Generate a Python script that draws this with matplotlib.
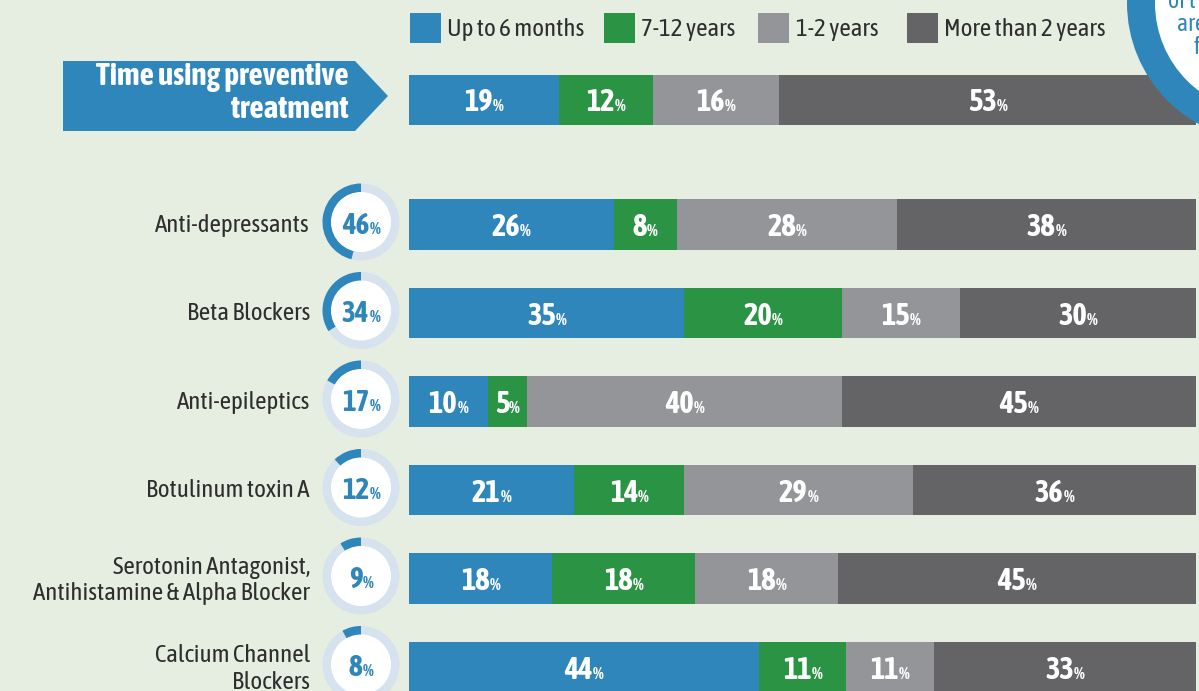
import matplotlib
matplotlib.use('Agg')
import matplotlib.pyplot as plt
from matplotlib.patches import Wedge, Circle, Rectangle, Polygon

# donnees
rows = ['Time using preventive\ntreatment', 'Anti-depressants', 'Beta Blockers',
        'Anti-epileptics', 'Botulinum toxin A',
        'Serotonin Antagonist,\nAntihistamine & Alpha Blocker',
        'Calcium Channel\nBlockers']
up_to_6m = [19, 26, 35, 10, 21, 18, 44]
y7_12 = [12, 8, 20, 5, 14, 18, 11]
y1_2 = [16, 28, 15, 40, 29, 18, 11]
more_2y = [53, 38, 30, 45, 36, 45, 33]
usage = [46, 34, 17, 12, 9, 8]  # part des patients, lignes medicaments
legend_labels = ['Up to 6 months', '7-12 years', '1-2 years', 'More than 2 years']
colors = ['#2e86bb', '#2a9444', '#939598', '#646466']

# police etroite (repli sur Liberation Sans)
plt.rcParams['font.family'] = ['Asap Condensed', 'Liberation Sans', 'DejaVu Sans']

W, H = 1199, 691
bg = '#e6ede1'
blue = colors[0]
txt = '#2e2e2e'

# positions des lignes (unites de ligne)
ypos = [-1.41, 0, 1, 2, 3, 4, 5]
ROW0, STEP = 224.5, 88.5
def ypx(u):
    return ROW0 + STEP * u

fig = plt.figure(figsize=(W / 100, H / 100), dpi=100, facecolor=bg)
rend = fig.canvas.get_renderer()

def pct_label(axis, x, y, num, color, size, dy):
    # nombre + petit %, le tout centre sur x
    kw = dict(textcoords='offset points', ha='left', va='baseline',
              color=color, fontweight='bold')
    t1 = axis.annotate(num, (x, y), xytext=(0, dy), fontsize=size, **kw)
    t2 = axis.annotate('%', (x, y), xytext=(0, dy), fontsize=12.5, **kw)
    w1 = t1.get_window_extent(rend).width
    w2 = t2.get_window_extent(rend).width
    gap = 0
    tot = w1 + gap + w2
    t1.xyann = (-tot / 2 * 0.72, dy)
    t2.xyann = ((-tot / 2 + w1 + gap) * 0.72, dy)

# barres empilees
ax = fig.add_axes([409 / W, 0, 1 - 409 / W, 1])
ax.set_facecolor('none')
ax.axis('off')
ax.set_xlim(0, (W - 409) / 7.87)
ax.set_ylim((H - ROW0) / STEP, -ROW0 / STEP)

series = [up_to_6m, y7_12, y1_2, more_2y]
for i in range(len(rows)):
    tot = sum(s[i] for s in series)
    left = 0
    for s, c in zip(series, colors):
        w = s[i] / tot * 100
        ax.barh(ypos[i], w, left=left, height=0.565, color=c, linewidth=0)
        pct_label(ax, left + w / 2, ypos[i], str(s[i]), 'white', 22, -8.3)
        left += w

# calque decoratif en pixels
ov = fig.add_axes([0, 0, 1, 1])
ov.set_xlim(0, W)
ov.set_ylim(H, 0)
ov.axis('off')
ov.patch.set_visible(False)

# fleche titre
ov.add_patch(Polygon([(63, 61), (355, 61), (388, 96), (355, 131), (63, 131)],
                     closed=True, color=blue, lw=0))
ov.text(349, 93, rows[0], ha='right', va='center', color='white',
        fontsize=22.5, fontweight='bold', linespacing=1.06)

# etiquettes + anneaux
for lab, u, v in zip(rows[1:], ypos[1:], usage):
    yc = ypx(u)
    dy_lab = 2 if '\n' in lab else 0.5
    ov.text(310, yc + dy_lab, lab, ha='right', va='center', color=txt,
            fontsize=18, linespacing=1.17)
    yd = yc - 2.5
    ov.add_patch(Circle((361, yd), 38.5, color='#d6e2ee', lw=0))
    ov.add_patch(Wedge((361, yd), 38.5, -90 - 3.6 * v, -90, width=9,
                       color=blue, lw=0))
    ov.add_patch(Circle((361, yd), 30, color='white', lw=0))
    pct_label(ov, 361, yd, str(v), blue, 21, -8.3)

# legende
for lab, c, xs, xt in zip(legend_labels, colors, [410, 604, 758, 907],
                          [447, 641, 796, 944]):
    ov.add_patch(Rectangle((xs, 13), 31, 30, color=c, lw=0))
    ov.text(xt, 29, lab, ha='left', va='center', color=txt, fontsize=18)

# cercle coupe en haut a droite
ov.add_patch(Circle((1265, 3), 138, color=blue, lw=0))
ov.add_patch(Circle((1265, 3), 110, color='white', lw=0))
ov.text(1168, 1, 'of t', ha='left', va='center', color=blue, fontsize=17)
ov.text(1177, 24, 'are', ha='left', va='center', color=blue, fontsize=17)
ov.text(1194, 47, 'f', ha='left', va='center', color=blue, fontsize=17)

fig.savefig('out.png', dpi=100, facecolor=bg)
